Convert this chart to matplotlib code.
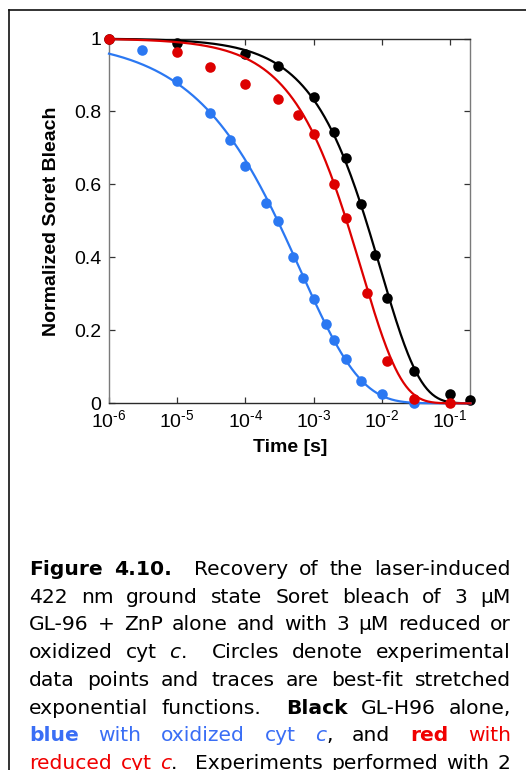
import numpy as np
import matplotlib
matplotlib.use("Agg")
import matplotlib.pyplot as plt
from matplotlib.lines import Line2D
from matplotlib.font_manager import FontProperties

plt.rcParams["font.family"] = "Liberation Sans"
plt.rcParams["mathtext.fontset"] = "custom"
plt.rcParams["mathtext.rm"] = "Liberation Sans"
plt.rcParams["mathtext.it"] = "Liberation Sans:italic"
plt.rcParams["mathtext.bf"] = "Liberation Sans:bold"

# ---- data: normalized Soret bleach recovery ----
t_black = [1e-6, 1e-5, 1e-4, 3e-4, 1e-3, 2e-3, 3e-3, 5e-3, 8e-3, 1.2e-2, 3e-2, 1e-1, 2e-1]
y_black = [1.0, 0.987, 0.957, 0.925, 0.839, 0.745, 0.672, 0.546, 0.407, 0.290, 0.089, 0.025, 0.009]

t_red = [1e-6, 1e-5, 3e-5, 1e-4, 3e-4, 6e-4, 1e-3, 2e-3, 3e-3, 6e-3, 1.2e-2, 3e-2, 1e-1]
y_red = [1.0, 0.962, 0.923, 0.875, 0.835, 0.790, 0.737, 0.600, 0.507, 0.303, 0.117, 0.011, 0.002]

t_blue = [3e-6, 1e-5, 3e-5, 6e-5, 1e-4, 2e-4, 3e-4, 5e-4, 7e-4, 1e-3, 1.5e-3, 2e-3, 3e-3, 5e-3, 1e-2, 3e-2]
y_blue = [0.968, 0.884, 0.797, 0.722, 0.650, 0.550, 0.501, 0.402, 0.343, 0.285, 0.217, 0.174, 0.121, 0.062, 0.025, 0.0]

# stretched-exponential fit parameters: y = exp(-(t/tau)**beta)
fit_black = (9.6e-3, 0.75)
fit_red = (5.0e-3, 0.74)
fit_blue = (6.3e-4, 0.49)

xtick_vals = [1e-6, 1e-5, 1e-4, 1e-3, 1e-2, 1e-1]
xtick_labels = [r"$\mathregular{10^{\text{-6}}}$", r"$\mathregular{10^{\text{-5}}}$",
                r"$\mathregular{10^{\text{-4}}}$", r"$\mathregular{10^{\text{-3}}}$",
                r"$\mathregular{10^{\text{-2}}}$", r"$\mathregular{10^{\text{-1}}}$"]
ytick_vals = [0, 0.2, 0.4, 0.6, 0.8, 1.0]
ytick_labels = ["0", "0.2", "0.4", "0.6", "0.8", "1"]

BLACK = "#000000"
RED = "#dd0000"
BLUE = "#2b78f2"

W, H = 526, 770
fig = plt.figure(figsize=(W / 100, H / 100), dpi=100)
fig.patch.set_facecolor("white")

ax = fig.add_axes([109 / W, 1 - 403.3 / H, (470.5 - 109) / W, (403.3 - 38.5) / H])
ax.set_xscale("log")
ax.set_xlim(1e-6, 0.2)
ax.set_ylim(0, 1)

tt = np.logspace(-6, np.log10(0.2), 400)
for (t, y, fit, col, z) in [(t_black, y_black, fit_black, BLACK, 3),
                            (t_blue, y_blue, fit_blue, BLUE, 4),
                            (t_red, y_red, fit_red, RED, 5)]:
    tau, beta = fit
    ax.plot(tt, np.exp(-(tt / tau) ** beta), color=col, lw=1.6, zorder=z, clip_on=False)
    ax.plot(t, y, "o", color=col, ms=7.6, mec="none", zorder=z + 0.5, clip_on=False)

ax.set_xticks(xtick_vals)
ax.set_xticklabels(xtick_labels)
ax.xaxis.set_minor_locator(matplotlib.ticker.NullLocator())
ax.set_yticks(ytick_vals)
ax.set_yticklabels(ytick_labels, fontproperties=FontProperties(family="Liberation Sans", size=14))
ax.tick_params(axis="both", which="major", direction="in", length=4.5, width=0.9,
               top=True, right=True, labelsize=14, color="#333333")
ax.tick_params(axis="x", pad=4)
ax.tick_params(axis="y", pad=5.5)

for side in ("left", "right"):
    ax.spines[side].set_color("#7a7a7a")
    ax.spines[side].set_linewidth(1.0)
for side in ("top", "bottom"):
    ax.spines[side].set_color("#2a2a2a")
    ax.spines[side].set_linewidth(1.0)

ax.set_xlabel("Time [s]", fontproperties=FontProperties(family="Liberation Sans", size=14,
                                                        weight="bold"), labelpad=6)
ax.set_ylabel("Normalized Soret Bleach",
              fontproperties=FontProperties(family="Liberation Sans", size=14, weight="bold"),
              labelpad=10)

# page frame
fig.add_artist(Line2D([9.5 / W, 9.5 / W], [1 - 10 / H, -0.01], color="#111111", lw=1.2,
                      transform=fig.transFigure))
fig.add_artist(Line2D([9 / W, 1.01], [1 - 10 / H, 1 - 10 / H], color="#111111", lw=1.2,
                      transform=fig.transFigure))

# ---- justified caption ----
CAP_BLUE = "#3a6ef5"
CAP_RED = "#f00000"
cap_size = 14.6
styles = {
    "n": ("black", "normal", "normal"),
    "b": ("black", "bold", "normal"),
    "i": ("black", "normal", "italic"),
    "B": (CAP_BLUE, "normal", "normal"),
    "bB": (CAP_BLUE, "bold", "normal"),
    "iB": (CAP_BLUE, "normal", "italic"),
    "R": (CAP_RED, "normal", "normal"),
    "bR": (CAP_RED, "bold", "normal"),
    "iR": (CAP_RED, "normal", "italic"),
}
caption = [
    [("Figure 4.10.", "b"), ("  Recovery of the laser-induced", "n")],
    [("422 nm ground state Soret bleach of 3 \u00b5M", "n")],
    [("GL-96 + ZnP alone and with 3 \u00b5M reduced or", "n")],
    [("oxidized cyt ", "n"), ("c", "i"), (".  Circles denote experimental", "n")],
    [("data points and traces are best-fit stretched", "n")],
    [("exponential functions.  ", "n"), ("Black", "b"), (" GL-H96 alone,", "n")],
    [("blue", "bB"), (" with oxidized cyt ", "B"), ("c", "iB"), (", and ", "n"),
     ("red", "bR"), (" with", "R")],
    [("reduced cyt ", "R"), ("c", "iR"), (".  Experiments performed with 2", "n")],
]
cap_left, cap_right = 29.3, 510.7
cap_base0, cap_step = 575.0, 27.7


def cap_font(st):
    _, weight, style = styles[st]
    return FontProperties(family="DejaVu Sans", size=cap_size, weight=weight, style=style)


renderer = fig.canvas.get_renderer()


def split_words(runs):
    chars = []
    for text, st in runs:
        chars.extend((c, st) for c in text)
    words, gaps = [], []
    cur, spaces = [], 0
    for c, st in chars:
        if c == " ":
            if cur:
                words.append(cur)
                cur = []
            spaces += 1
        else:
            if not cur and words:
                gaps.append(spaces)
            spaces = 0
            if cur and cur[-1][1] == st:
                cur[-1] = (cur[-1][0] + c, st)
            else:
                cur.append((c, st))
    if cur:
        words.append(cur)
    return words, gaps


def run_width(text, st):
    w, _, _ = renderer.get_text_width_height_descent(text, cap_font(st), ismath=False)
    return w


for li, runs in enumerate(caption):
    words, gaps = split_words(runs)
    widths = [[run_width(s, st) for s, st in w] for w in words]
    total = sum(sum(w) for w in widths)
    space = (cap_right - cap_left - total) / max(sum(gaps), 1)
    x = cap_left
    yb = cap_base0 + li * cap_step
    for wi, (w, ws) in enumerate(zip(words, widths)):
        for (s, st), rw in zip(w, ws):
            fig.text(x / W, 1 - yb / H, s, fontproperties=cap_font(st), color=styles[st][0],
                     ha="left", va="baseline")
            x += rw
        if wi < len(gaps):
            x += gaps[wi] * space

fig.savefig("out.png", dpi=100)
